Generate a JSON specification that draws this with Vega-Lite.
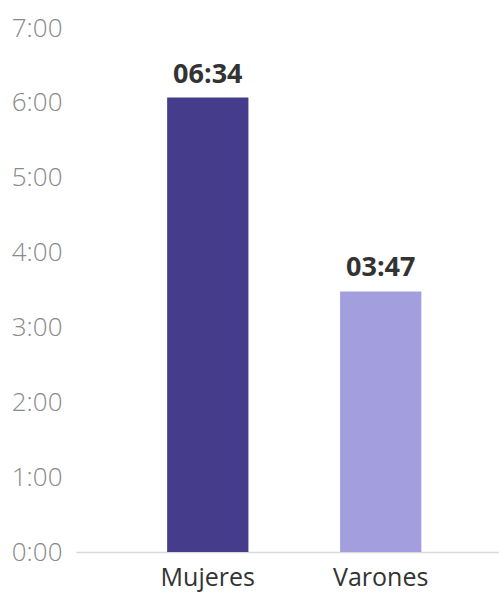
{
  "$schema": "https://vega.github.io/schema/vega-lite/v6.json",
  "width": 423,
  "height": 524,
  "autosize": {"type": "none"},
  "padding": {"left": 76, "top": 28, "right": 0, "bottom": 47},
  "background": "white",
  "config": {"view": {"stroke": null}, "font": "Open Sans"},
  "data": {"values": [
    {"grupo": "Mujeres", "horas": 6.07, "etiqueta": "06:34"},
    {"grupo": "Varones", "horas": 3.48, "etiqueta": "03:47"}
  ]},
  "encoding": {
    "x": {"field": "grupo", "type": "nominal", "sort": null,
      "scale": {"paddingInner": 0.53, "paddingOuter": 0.488, "align": 0.54},
      "axis": {"title": null, "labelAngle": 0, "ticks": false, "domainColor": "#d9d9d9", "domainWidth": 1.5,
        "labelFontSize": 25, "labelColor": "#333333", "labelPadding": 13, "labelFont": "Open Sans"}},
    "y": {"field": "horas", "type": "quantitative",
      "scale": {"domain": [0, 7], "nice": false},
      "axis": {"title": null, "grid": false, "domain": false, "ticks": false, "values": [0,1,2,3,4,5,6,7],
        "labelExpr": "datum.value + ':00'", "labelFontSize": 26, "labelFontWeight": 300, "labelColor": "#8a8a8a",
        "labelPadding": 14, "labelFont": "Open Sans"}}
  },
  "layer": [
    {"mark": {"type": "bar"},
     "encoding": {"color": {"field": "grupo", "type": "nominal", "legend": null,
       "scale": {"domain": ["Mujeres", "Varones"], "range": ["#453d8b", "#a39fdf"]}}}},
    {"mark": {"type": "text", "baseline": "alphabetic", "dy": -15, "fontSize": 27, "fontWeight": "bold", "color": "#333333", "font": "Open Sans"},
     "encoding": {"text": {"field": "etiqueta"}}}
  ]
}
